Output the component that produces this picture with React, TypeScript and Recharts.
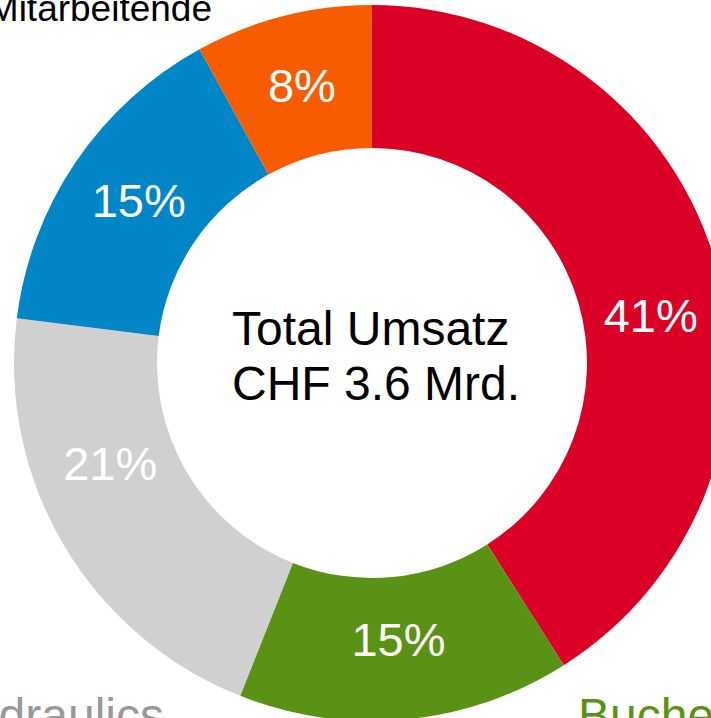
import React from 'react';
import { PieChart, Pie, Cell } from 'recharts';

// Umsatz nach Division (Anteile in %)
const divisions = ['Kuhn Group', 'Bucher Municipal', 'Bucher Hydraulics', 'Bucher Emhart Glass', 'Bucher Specials'];
const shares = [41, 15, 21, 15, 8];
const colors = ['#DA0026', '#5A9216', '#D0D0D0', '#0086C6', '#F85C00'];

const data = divisions.map((name, i) => ({ name, value: shares[i] }));

const CX = 372;
const CY = 363;
const FONT = '"Liberation Sans", Arial, sans-serif';

// small angle nudges so the labels sit where the original places them
const labelNudge: Record<string, number> = { 'Kuhn Group': -7.4, 'Bucher Hydraulics': -8.8 };

const RADIAN = Math.PI / 180;

const renderLabel = (props: any) => {
    const { cx, cy, midAngle, name, value } = props;
    const angle = midAngle + (labelNudge[name] || 0);
    const r = 282;
    const x = cx + r * Math.cos(-angle * RADIAN);
    const y = cy + r * Math.sin(-angle * RADIAN) - 4;
    return (
        <text x={x} y={y} fill="#ffffff" textAnchor="middle" dominantBaseline="central"
            style={{ fontFamily: FONT, fontSize: 47 }}>
            {`${value}%`}
        </text>
    );
};

export default function App() {
    return (
        <div style={{ position: 'fixed', left: 0, top: 0, width: 711, height: 718, overflow: 'hidden', background: '#fff' }}>
            <PieChart width={711} height={718} margin={{ top: 0, right: 0, bottom: 0, left: 0 }}>
                <Pie
                    data={data}
                    dataKey="value"
                    nameKey="name"
                    cx={CX}
                    cy={CY}
                    innerRadius={215}
                    outerRadius={358}
                    startAngle={90}
                    endAngle={-270}
                    stroke="none"
                    label={renderLabel}
                    labelLine={false}
                    isAnimationActive={false}
                >
                    {data.map((entry, index) => (
                        <Cell key={`cell-${index}`} fill={colors[index]} />
                    ))}
                </Pie>
            </PieChart>
            <svg width={711} height={718} style={{ position: 'absolute', left: 0, top: 0, pointerEvents: 'none' }}>
                {/* centre text is left-aligned in the original */}
                <text x={232} y={345} textAnchor="start" fill="#000" style={{ fontFamily: FONT, fontSize: 48 }}>Total Umsatz</text>
                <text x={232} y={400} textAnchor="start" fill="#000" style={{ fontFamily: FONT, fontSize: 48 }}>CHF 3.6 Mrd.</text>
                <text x={212} y={21} textAnchor="end" fill="#000" style={{ fontFamily: FONT, fontSize: 37 }}>Mitarbeitende</text>
                <text x={164} y={732} textAnchor="end" fill="#999999" style={{ fontFamily: FONT, fontSize: 48 }}>Bucher Hydraulics</text>
                <text x={578} y={732} textAnchor="start" fill="#5A9216" style={{ fontFamily: FONT, fontSize: 48 }}>Bucher Municipal</text>
            </svg>
        </div>
    );
}
